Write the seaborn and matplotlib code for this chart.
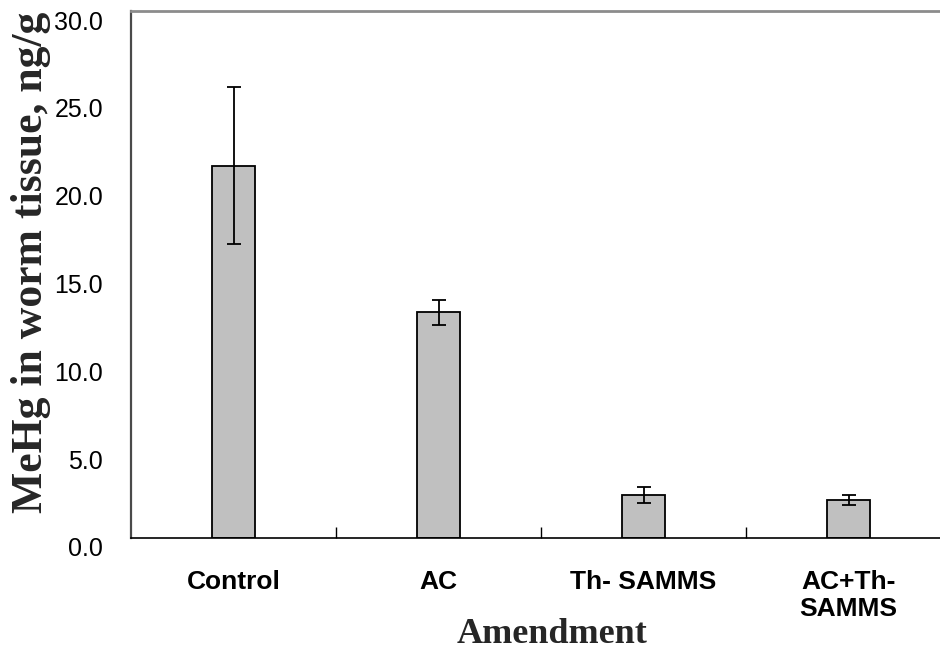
import matplotlib
matplotlib.use("Agg")
import matplotlib.pyplot as plt
import matplotlib.transforms as mtransforms
import seaborn as sns
import pandas as pd

# Worm-tissue MeHg by sediment amendment (mean and error)
amendments = ["Control", "AC", "Th- SAMMS", "AC+Th-\nSAMMS"]
mehg_mean = [21.2, 12.85, 2.45, 2.15]
mehg_err = [4.45, 0.71, 0.47, 0.27]
y_ticks = [0, 5, 10, 15, 20, 25, 30]

df = pd.DataFrame({"Amendment": amendments, "MeHg": mehg_mean})

sns.set_theme(style="white")
plt.rcParams["font.family"] = ["Liberation Sans", "DejaVu Sans"]

fig = plt.figure(figsize=(9.4, 6.5), dpi=100)
ax = fig.add_axes([131 / 940, 112 / 650, 820 / 940, 527 / 650])

sns.barplot(data=df, x="Amendment", y="MeHg", color="#c0c0c0",
            saturation=1, edgecolor="black", linewidth=1.3,
            width=0.205, errorbar=None, ax=ax)
ax.errorbar(range(len(amendments)), mehg_mean, yerr=mehg_err, fmt="none",
            ecolor="black", elinewidth=1.3, capsize=4.8, capthick=1.3,
            zorder=5)

ax.set_xlim(-0.5, len(amendments) - 0.5)
ax.set_ylim(0, 30)
ax.set_yticks(y_ticks)
ax.set_yticklabels([f"{v:.1f}" for v in y_ticks], fontsize=18)
ax.set_xticks(range(len(amendments)))
ax.set_xticklabels(amendments, fontsize=19, fontweight="bold",
                   linespacing=1.15)
ax.set_xticks([0.5, 1.5, 2.5], minor=True)

ax.tick_params(axis="y", which="major", direction="in", length=8, width=1,
               color="#555555", pad=20, labelcolor="black")
ax.tick_params(axis="x", which="major", length=0, pad=23,
               labelcolor="black")
ax.tick_params(axis="x", which="minor", direction="in", length=8, width=1,
               color="black", bottom=True)

ax.spines["right"].set_visible(False)
ax.spines["top"].set_color("#8c8c8c")
ax.spines["top"].set_linewidth(2.0)
ax.spines["left"].set_color("#4a4a4a")
ax.spines["left"].set_linewidth(1.6)
ax.spines["bottom"].set_color("black")
ax.spines["bottom"].set_linewidth(1.2)

# Value labels sit slightly below their tick marks
shift = mtransforms.ScaledTranslation(0, -9 / 100, fig.dpi_scale_trans)
for tick in ax.yaxis.get_major_ticks():
    tick.label1.set_transform(tick.label1.get_transform() + shift)

ax.set_xlabel("Amendment", fontsize=26, fontweight="bold",
              family="Liberation Serif")
ax.xaxis.label.set_va("baseline")
ax.xaxis.set_label_coords((552 - 131) / 820, (538 - 643) / 527)

ax.set_ylabel("MeHg in worm tissue, ng/g", fontsize=31.5, fontweight="bold",
              family="Liberation Serif")
ax.yaxis.label.set_va("center")
ax.yaxis.set_label_coords((31 - 131) / 820, (538 - 262.5) / 527)

fig.savefig("out.png", dpi=100)
